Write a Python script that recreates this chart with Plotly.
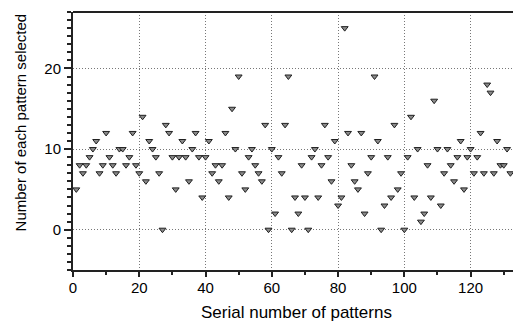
import plotly.graph_objects as go

serial = list(range(1, 133))
counts = [
    5, 8, 7, 8, 9, 10, 11, 7, 8, 12,
    9, 8, 7, 10, 10, 8, 9, 12, 8, 7,
    14, 6, 11, 10, 9, 7, 0, 13, 12, 9,
    5, 9, 11, 9, 6, 10, 12, 9, 4, 9,
    11, 7, 8, 6, 8, 12, 4, 15, 10, 19,
    7, 5, 9, 10, 8, 7, 6, 13, 0, 10,
    2, 9, 7, 13, 19, 0, 4, 2, 8, 4,
    0, 9, 10, 4, 8, 13, 9, 6, 11, 3,
    4, 25, 12, 8, 6, 5, 12, 2, 7, 9,
    19, 11, 0, 3, 9, 4, 13, 5, 7, 0,
    9, 14, 4, 10, 1, 2, 8, 4, 16, 10,
    3, 7, 10, 8, 6, 9, 11, 5, 9, 10,
    7, 9, 12, 7, 18, 17, 7, 11, 8, 8,
    10, 7,
]

x_title = "Serial number of patterns"
y_title = "Number of each pattern selected"

fig = go.Figure(go.Scatter(
    x=serial, y=counts, mode="markers",
    marker=dict(symbol="triangle-down", size=6, color="#8a8a8a",
                line=dict(color="#202020", width=1)),
    showlegend=False,
))

FAM = "Liberation Sans, Arial, sans-serif"
fig.update_layout(
    width=513, height=314,
    margin=dict(l=65, r=2, t=4, b=52, autoexpand=False),
    paper_bgcolor="white", plot_bgcolor="white",
    font=dict(family=FAM, size=15, color="black"),
    annotations=[
        dict(text=x_title, xref="paper", yref="paper", x=0.5, y=0,
             xanchor="center", yanchor="middle", yshift=-42, showarrow=False,
             font=dict(size=17)),
        dict(text=y_title, xref="paper", yref="paper", x=0, y=0.572,
             xanchor="center", yanchor="middle", xshift=-53, showarrow=False,
             textangle=-90, font=dict(size=15)),
    ],
    shapes=[
        dict(type="line", xref="paper", yref="paper", x0=1, x1=1, y0=0, y1=1,
             line=dict(color="#999", width=1)),
        dict(type="line", xref="paper", yref="paper", x0=0, x1=1, y0=1, y1=1,
             line=dict(color="#222", width=2)),
    ],
)
fig.update_xaxes(
    range=[0, 134.6], tick0=0, dtick=20,
    showline=True, linecolor="#222", linewidth=2, mirror=False,
    ticks="outside", ticklen=5, tickwidth=1.5, tickcolor="#222",
    ticklabelstandoff=-2,
    showgrid=True, gridcolor="#777", griddash="1px,2px", gridwidth=1,
    minor=dict(dtick=10, ticks="outside", ticklen=3, tickcolor="#222", showgrid=False),
    zeroline=False, automargin=False,
)
fig.update_yaxes(
    range=[-5, 27], tick0=0, dtick=10,
    showline=True, linecolor="#222", linewidth=2, mirror=False,
    ticks="outside", ticklen=7, tickwidth=1.5, tickcolor="#222",
    showgrid=True, gridcolor="#777", griddash="1px,2px", gridwidth=1,
    minor=dict(dtick=1, ticks="outside", ticklen=4, tickcolor="#222", showgrid=False),
    zeroline=False, automargin=False,
)
fig.write_html("out.html")
